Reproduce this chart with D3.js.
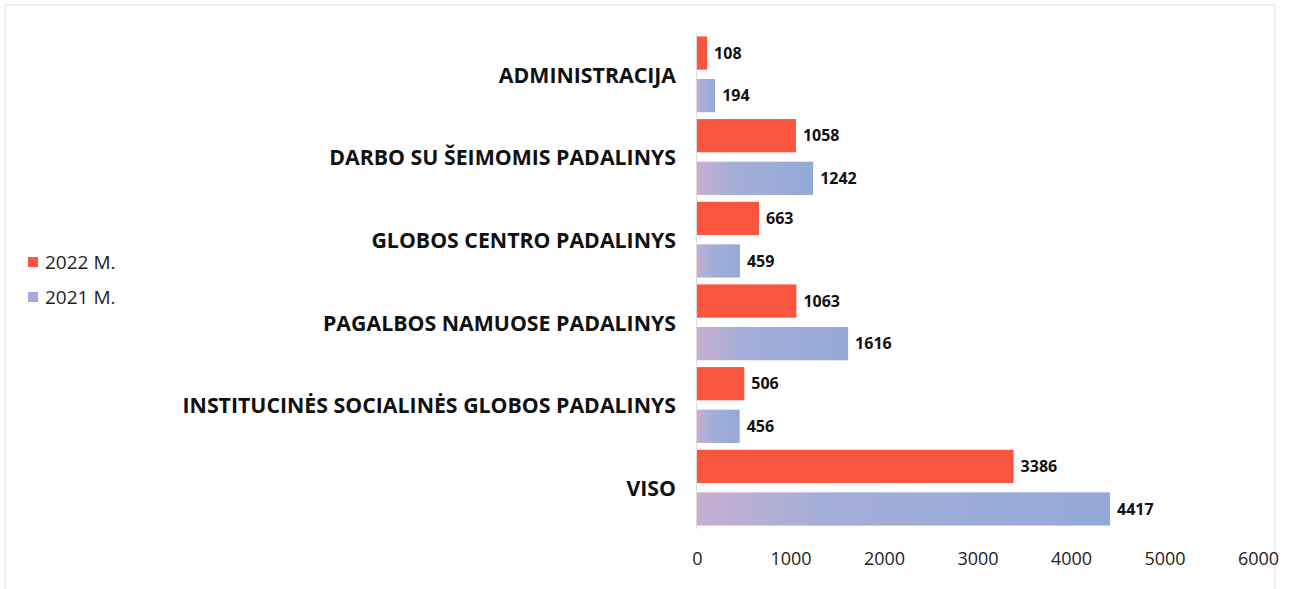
<!DOCTYPE html>
<html>
<head>
<meta charset="utf-8">
<script src="https://cdn.jsdelivr.net/npm/d3@7"></script>
<style>
  body { margin: 0; background: #fff; }
  svg { display: block; }
</style>
</head>
<body>
<div id="chart"></div>
<script>
var categories = ["ADMINISTRACIJA", "DARBO SU ŠEIMOMIS PADALINYS", "GLOBOS CENTRO PADALINYS",
  "PAGALBOS NAMUOSE PADALINYS", "INSTITUCINĖS SOCIALINĖS GLOBOS PADALINYS", "VISO"]
var values2022 = [108, 1058, 663, 1063, 506, 3386]
var values2021 = [194, 1242, 459, 1616, 456, 4417]
var seriesNames = ["2022 M.", "2021 M."]
var xTicks = [0, 1000, 2000, 3000, 4000, 5000, 6000]

var W = 1293, H = 589
var svg = d3.select("#chart").append("svg")
  .attr("width", W).attr("height", H)

// faint frame of the scanned chart
svg.append("rect")
  .attr("x", 5).attr("y", 5).attr("width", 1270).attr("height", 600)
  .attr("fill", "none").attr("stroke", "#f1dede").attr("stroke-width", 1)

var defs = svg.append("defs")
var grad = defs.append("linearGradient").attr("id", "blueGrad")
grad.append("stop").attr("offset", "0%").attr("stop-color", "#c7afd0")
grad.append("stop").attr("offset", "30%").attr("stop-color", "#a4aed8")
grad.append("stop").attr("offset", "100%").attr("stop-color", "#94a9d8")

var x = d3.scaleLinear().domain([0, 6000]).range([697, 1258])
var y = d3.scaleBand().domain(categories).range([33, 529]).paddingInner(0).paddingOuter(0)
var sub = d3.scaleBand().domain(seriesNames).range([0, y.bandwidth()]).paddingInner(0.22).paddingOuter(0.08)

var rows = categories.map(function(c, i) {
  return [{cat: c, s: seriesNames[0], v: values2022[i]}, {cat: c, s: seriesNames[1], v: values2021[i]}]
})
var flat = d3.merge(rows)

// vertical axis line
svg.append("line")
  .attr("x1", x(0) - 0.5).attr("x2", x(0) - 0.5)
  .attr("y1", 33).attr("y2", 529)
  .attr("stroke", "#dcdcdc")

svg.selectAll("rect.bar")
  .data(flat)
  .enter()
  .append("rect")
  .attr("class", "bar")
  .attr("x", x(0))
  .attr("y", function(d) { return y(d.cat) + sub(d.s) })
  .attr("width", function(d) { return x(d.v) - x(0) })
  .attr("height", sub.bandwidth())
  .attr("fill", function(d) { return d.s == seriesNames[0] ? "#f9553f" : "url(#blueGrad)" })

svg.selectAll("text.val")
  .data(flat)
  .enter()
  .append("text")
  .attr("class", "val")
  .attr("x", function(d) { return x(d.v) + 7 })
  .attr("y", function(d) { return y(d.cat) + sub(d.s) + sub.bandwidth() / 2 })
  .attr("dy", "0.35em")
  .attr("font-family", "'Open Sans', sans-serif")
  .attr("font-weight", "bold")
  .attr("font-size", 16)
  .attr("fill", "#111")
  .text(function(d) { return d.v })

// category labels
svg.selectAll("text.cat")
  .data(categories)
  .enter()
  .append("text")
  .attr("class", "cat")
  .attr("x", 676)
  .attr("y", function(d) { return y(d) + y.bandwidth() / 2 + 1 })
  .attr("dy", "0.35em")
  .attr("text-anchor", "end")
  .attr("font-family", "'Open Sans', sans-serif")
  .attr("font-weight", "bold")
  .attr("font-size", 21.3)
  .attr("fill", "#111")
  .text(function(d) { return d })

// x axis
var xAxis = d3.axisBottom(x).tickValues(xTicks).tickSize(0).tickPadding(0).tickFormat(d3.format("d"))
var gx = svg.append("g").attr("transform", "translate(0,552)").call(xAxis)
gx.select(".domain").remove()
gx.selectAll("text")
  .attr("font-family", "'Open Sans', sans-serif")
  .attr("font-size", 18)
  .attr("fill", "#222")

// legend
var legend = svg.selectAll("g.leg")
  .data(seriesNames)
  .enter()
  .append("g")
  .attr("class", "leg")
  .attr("transform", function(d, i) { return "translate(28," + (262 + i * 35) + ")" })
legend.append("rect")
  .attr("x", 0).attr("y", -5).attr("width", 10).attr("height", 10)
  .attr("fill", function(d, i) { return i == 0 ? "#f9553f" : "#a3acd6" })
legend.append("text")
  .attr("x", 17).attr("dy", "0.35em")
  .attr("font-family", "'Open Sans', sans-serif")
  .attr("font-size", 19)
  .attr("fill", "#222")
  .text(function(d) { return d })
</script>
</body>
</html>
